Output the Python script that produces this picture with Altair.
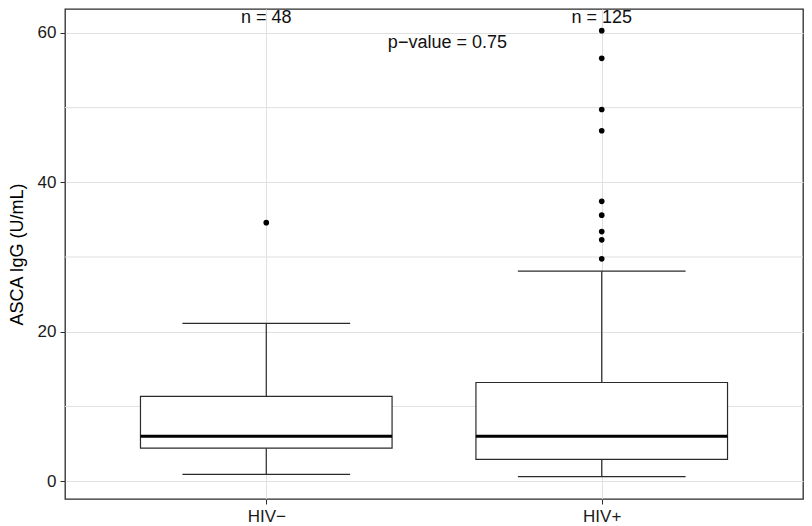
import altair as alt
import pandas as pd

# ---- data ----
groups = ["HIV−", "HIV+"]
n_counts = [48, 125]
lower_whisker = [0.9, 0.6]
q1 = [4.4, 2.9]
median = [6.0, 6.0]
q3 = [11.35, 13.2]
upper_whisker = [21.1, 28.1]
outliers_neg = [34.6]
outliers_pos = [29.75, 32.3, 33.4, 35.6, 37.45, 46.9, 49.75, 56.6, 60.3]
p_value_label = "p−value = 0.75"
p_value_x = 1.54
p_value_y = 58.7
n_label_y = 62.0
y_major = [0, 20, 40, 60]
y_minor = [10, 30, 50]
y_title = "ASCA IgG (U/mL)"

BOX_HALF = 0.375
CAP_HALF = 0.25
FONT = "Liberation Sans"
GRID = "#e0e0e0"
LINE = "#2b2b2b"

pos = [i + 1 for i in range(len(groups))]
box = pd.DataFrame({
    "pos": pos,
    "left": [p - BOX_HALF for p in pos],
    "right": [p + BOX_HALF for p in pos],
    "capl": [p - CAP_HALF for p in pos],
    "capr": [p + CAP_HALF for p in pos],
    "lo": lower_whisker, "q1": q1, "med": median, "q3": q3, "hi": upper_whisker,
    "nlab": [f"n = {n}" for n in n_counts],
    "ny": [n_label_y] * len(groups),
})
out = pd.DataFrame({
    "pos": [1] * len(outliers_neg) + [2] * len(outliers_pos),
    "val": outliers_neg + outliers_pos,
})
minor = pd.DataFrame({"v": y_minor})
ptext = pd.DataFrame({"x": [p_value_x], "y": [p_value_y], "t": [p_value_label]})

label_js = "[" + ",".join("'" + g + "'" for g in groups) + "]"
xscale = alt.Scale(domain=[0.4, len(groups) + 0.6], nice=False, zero=False)
yscale = alt.Scale(domain=[-2.4, 63.2], nice=False, zero=False)
xaxis = alt.Axis(values=pos, labelExpr=f"{label_js}[datum.value - 1]", grid=True,
                 gridColor=GRID, domain=False, tickColor=LINE, tickSize=5,
                 labelPadding=4, labelFontSize=17, title=None)
yaxis = alt.Axis(values=y_major, grid=True, gridColor=GRID, domain=False,
                 tickColor=LINE, tickSize=5, labelPadding=4, labelFontSize=17,
                 title=y_title, titleFontSize=18, titlePadding=11)


def X(f):
    return alt.X(f, type="quantitative", scale=xscale, axis=xaxis, title=None)


def Y(f):
    return alt.Y(f, type="quantitative", scale=yscale, axis=yaxis, title=y_title)


base = alt.Chart(box)

minor_grid = alt.Chart(minor).mark_rule(color=GRID, strokeWidth=1).encode(y=Y("v"))
wh_hi = base.mark_rule(color=LINE, strokeWidth=1.2).encode(x=X("pos"), y=Y("q3"), y2="hi")
wh_lo = base.mark_rule(color=LINE, strokeWidth=1.2).encode(x=X("pos"), y=Y("lo"), y2="q1")
cap_hi = base.mark_rule(color=LINE, strokeWidth=1.2).encode(x=X("capl"), x2="capr", y=Y("hi"))
cap_lo = base.mark_rule(color=LINE, strokeWidth=1.2).encode(x=X("capl"), x2="capr", y=Y("lo"))
boxes = base.mark_bar(fill="white", stroke=LINE, strokeWidth=1.2).encode(
    x=X("left"), x2="right", y=Y("q1"), y2="q3")
med = base.mark_rule(color="black", strokeWidth=3).encode(x=X("left"), x2="right", y=Y("med"))
pts = alt.Chart(out).mark_circle(color="black", opacity=1, size=32).encode(x=X("pos"), y=Y("val"))
ntext = base.mark_text(font=FONT, fontSize=18, color="#111", baseline="middle").encode(
    x=X("pos"), y=Y("ny"), text="nlab")
ptxt = alt.Chart(ptext).mark_text(font=FONT, fontSize=18, color="#111", baseline="middle").encode(
    x=X("x"), y=Y("y"), text="t")

chart = alt.layer(minor_grid, wh_hi, wh_lo, cap_hi, cap_lo, boxes, med, pts, ntext, ptxt).properties(
    width=738, height=490, padding={"left": 0, "top": 0, "right": 0, "bottom": 0}
).configure_view(stroke=LINE, strokeWidth=1.3).configure_axis(
    labelFont=FONT, titleFont=FONT, labelColor="#1a1a1a", titleColor="#000",
    titleFontWeight="normal"
)

chart.save("out.html", embed_options={"renderer": "svg", "actions": False})
